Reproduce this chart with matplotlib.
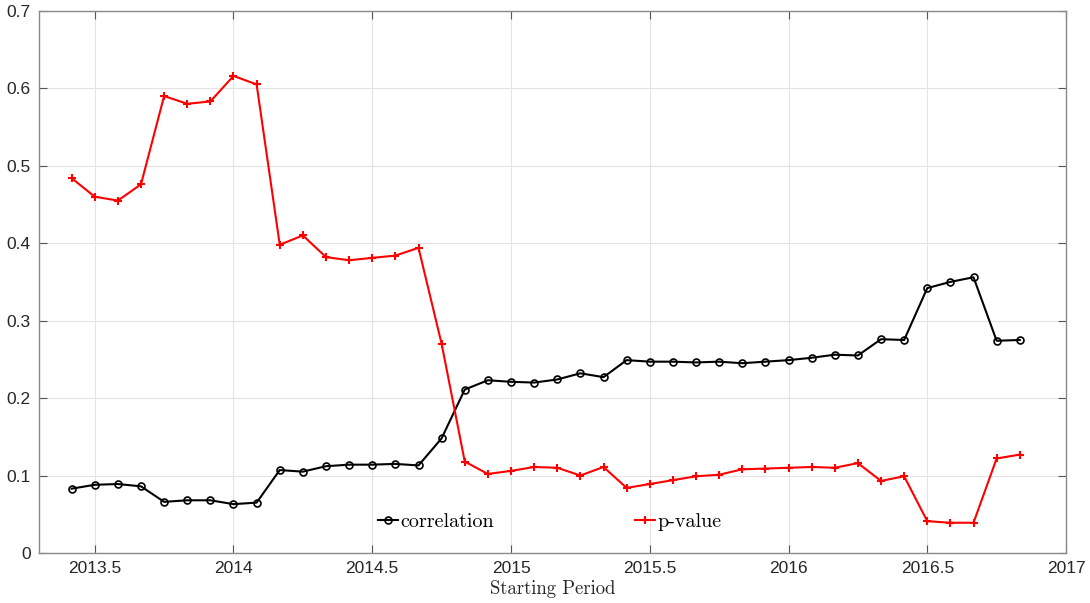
import numpy as np
import matplotlib.pyplot as plt

# monthly starting periods, May 2013 .. Nov 2016
start = 2013 + 5 / 12
n_months = 42

correlation = [0.083, 0.088, 0.089, 0.086, 0.066, 0.068, 0.068, 0.063, 0.065, 0.107,
               0.105, 0.112, 0.114, 0.114, 0.115, 0.113, 0.148, 0.211, 0.223, 0.221,
               0.220, 0.224, 0.232, 0.227, 0.249, 0.247, 0.247, 0.246, 0.247, 0.245,
               0.247, 0.249, 0.252, 0.256, 0.255, 0.276, 0.275, 0.342, 0.350, 0.356,
               0.274, 0.275]
p_value = [0.484, 0.460, 0.455, 0.476, 0.590, 0.580, 0.583, 0.616, 0.605, 0.398,
           0.410, 0.382, 0.378, 0.381, 0.384, 0.394, 0.270, 0.118, 0.102, 0.106,
           0.111, 0.110, 0.100, 0.111, 0.084, 0.089, 0.094, 0.099, 0.101, 0.108,
           0.109, 0.110, 0.111, 0.110, 0.116, 0.093, 0.099, 0.041, 0.039, 0.039,
           0.122, 0.127]
xticks = [2013.5, 2014, 2014.5, 2015, 2015.5, 2016, 2016.5, 2017]
xtick_labels = ['2013.5', '2014', '2014.5', '2015', '2015.5', '2016', '2016.5', '2017']
yticks = [0, 0.1, 0.2, 0.3, 0.4, 0.5, 0.6, 0.7]
ytick_labels = ['0', '0.1', '0.2', '0.3', '0.4', '0.5', '0.6', '0.7']

periods = start + np.arange(n_months) / 12

plt.rcParams['font.family'] = ['Liberation Sans', 'DejaVu Sans']

fig = plt.figure(figsize=(10.9, 6.03), dpi=100)
ax = fig.add_axes([0.036, 0.083, 0.942, 0.899])

ax.plot(periods, correlation, color='black', lw=1.5, marker='o', ms=5,
        mfc='none', mew=1.2, label='correlation')
ax.plot(periods, p_value, color='red', lw=1.5, marker='+', ms=6,
        mew=1.5, label='p-value')

ax.set_xlim(2013.3, 2017)
ax.set_ylim(0, 0.7)
ax.set_xticks(xticks)
ax.set_xticklabels(xtick_labels)
ax.set_yticks(yticks)
ax.set_yticklabels(ytick_labels)
ax.grid(True, color='#e3e3e3', lw=0.8)
ax.set_axisbelow(True)
ax.tick_params(direction='in', length=6, top=True, right=True, color='#555555',
               labelsize=12.5, labelcolor='#262626', pad=6)
for s in ax.spines.values():
    s.set_color('#8a8a8a')
    s.set_linewidth(1.0)

ax.set_xlabel('Starting Period', family='cmr10', fontsize=13.5, color='#262626',
              labelpad=3)

leg = ax.legend(loc='center', bbox_to_anchor=(0.497, 0.057), ncol=2, frameon=False,
                prop={'family': 'cmr10', 'size': 14.5}, handlelength=1.0,
                handletextpad=0.12, columnspacing=7.0)

plt.savefig('out.png', dpi=100)
